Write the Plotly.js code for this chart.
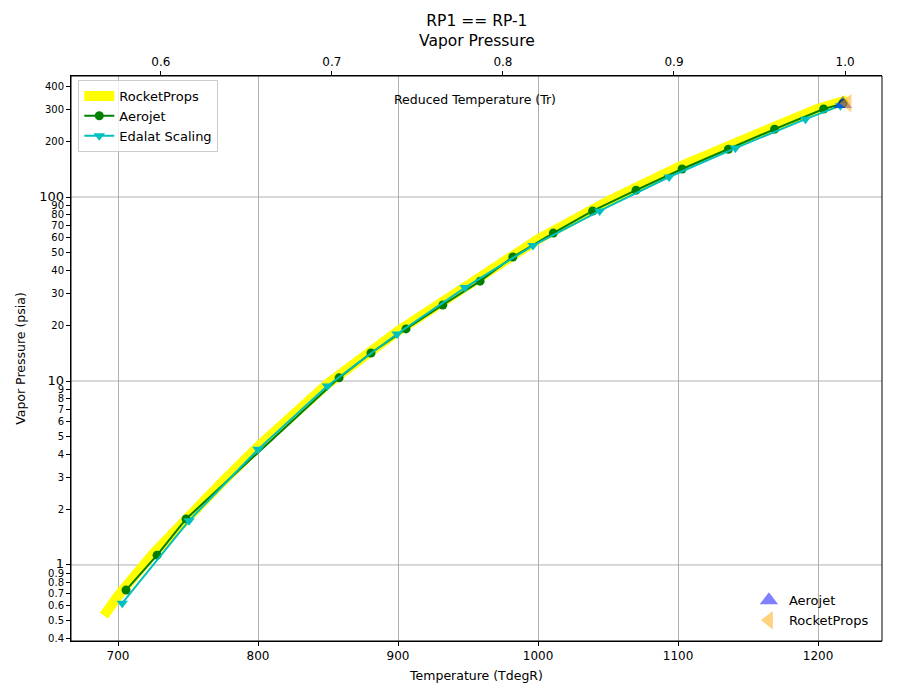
<!DOCTYPE html>
<html>
<head>
<meta charset="utf-8">
<script src="https://cdn.plot.ly/plotly-3.0.1.min.js"></script>
<style>html,body{margin:0;padding:0;background:#fff;}#chart{width:900px;height:700px;}</style>
</head>
<body>
<div id="chart"></div>
<script>
// RocketProps curve (T degR, psia)
const rpT = [690, 700, 725, 750, 775, 800, 850, 900, 950, 1000, 1050, 1100, 1150, 1200, 1221];
const rpP = [0.53, 0.68, 1.15, 1.85, 2.85, 4.4, 9.7, 18.7, 33, 59, 95, 145, 210, 302, 337];
// Aerojet data
const ajT = [705.7, 727.9, 748.6, 857.9, 880.7, 905.7, 932, 958.6, 982, 1010.9, 1039, 1070, 1102.9, 1136, 1169, 1204, 1217.7];
const ajP = [0.73, 1.13, 1.78, 10.4, 14.2, 19.2, 25.9, 34.9, 47.2, 63.7, 84, 109, 142, 182, 234, 301, 322];
// Edalat scaling
const edT = [703, 750.7, 800, 849.5, 899.3, 947.9, 996.4, 1044, 1093.6, 1141, 1191, 1216];
const edP = [0.62, 1.74, 4.25, 9.4, 18.0, 32.2, 54.5, 84, 128.5, 184.6, 265, 314];
// critical points
const critAjT = [1217.7], critAjP = [320];
const critRpT = [1221], critRpP = [324];
// axis ticks
const xTicks = [700, 800, 900, 1000, 1100, 1200];
const trTicks = [0.6, 0.7, 0.8, 0.9, 1.0];
const trLabels = ['0.6', '0.7', '0.8', '0.9', '1.0'];
const yTicks = [0.4,0.5,0.6,0.7,0.8,0.9,1,2,3,4,5,6,7,8,9,10,20,30,40,50,60,70,80,90,100,200,300,400];
const yMajor = [1, 10, 100];

const yText = yTicks.map(v => yMajor.includes(v) ? '<span style="font-size:13px">' + v + '</span>' : String(v));

const traces = [
  {x: rpT, y: rpP, name: 'RocketProps', mode: 'lines', line: {color: '#ffff00', width: 10}, legend: 'legend'},
  {x: ajT, y: ajP, name: 'Aerojet', mode: 'lines+markers', line: {color: '#008000', width: 2},
   marker: {symbol: 'circle', size: 9, color: '#008000'}, legend: 'legend'},
  {x: edT, y: edP, name: 'Edalat Scaling', mode: 'lines+markers', line: {color: '#00bfbf', width: 2},
   marker: {symbol: 'triangle-down', size: 10, color: '#00bfbf'}, legend: 'legend'},
  {x: critAjT, y: critAjP, name: 'Aerojet', mode: 'markers',
   marker: {symbol: 'triangle-up', size: 16, color: 'rgba(0,0,255,0.5)'}, legend: 'legend2'},
  {x: critRpT, y: critRpP, name: 'RocketProps', mode: 'markers',
   marker: {symbol: 'triangle-left', size: 16, color: 'rgba(255,165,0,0.5)'}, legend: 'legend2'},
  // empty trace so the top (reduced temperature) axis is drawn
  {x: [], y: [], xaxis: 'x2', yaxis: 'y', mode: 'markers', showlegend: false, hoverinfo: 'skip'}
];

const gridShapes = yMajor.map(v => ({type: 'line', xref: 'paper', x0: 0, x1: 1, yref: 'y', y0: v, y1: v,
  line: {color: '#b0b0b0', width: 1}, layer: 'below'}));

const layout = {
  width: 900, height: 700,
  font: {family: 'DejaVu Sans', color: '#000', size: 12},
  paper_bgcolor: '#fff', plot_bgcolor: '#fff',
  margin: {l: 71, r: 18, t: 76, b: 59},
  xaxis: {range: [666.4, 1245.7], tickvals: xTicks, ticks: 'outside', ticklen: 4, tickcolor: '#000',
          showline: true, linecolor: '#000', mirror: false, showgrid: true, gridcolor: '#b0b0b0', zeroline: false,
          tickfont: {size: 12}, title: {text: 'Temperature (TdegR)', font: {size: 12.5}, standoff: 8}},
  xaxis2: {overlaying: 'x', side: 'top', anchor: 'y', range: [0.5475, 1.0216], tickvals: trTicks, ticktext: trLabels,
           ticks: 'outside', ticklen: 4, tickcolor: '#000', showline: true, linecolor: '#000', showgrid: false,
           zeroline: false, tickfont: {size: 12}},
  yaxis: {type: 'log', range: [Math.log10(0.386), Math.log10(455)], tickvals: yTicks, ticktext: yText,
          ticks: 'outside', ticklen: 4, tickcolor: '#000', showline: true, linecolor: '#000', showgrid: false,
          zeroline: false, tickfont: {size: 10}, title: {text: 'Vapor Pressure (psia)', font: {size: 12.5}, standoff: 10}},
  shapes: gridShapes.concat([{type: 'rect', xref: 'paper', yref: 'paper', x0: 0, x1: 1, y0: 0, y1: 1,
           line: {color: '#000', width: 1}, layer: 'above'}]),
  annotations: [
    {text: 'RP1 == RP-1<br>Vapor Pressure', xref: 'paper', yref: 'paper', x: 0.5, y: 1.0805,
     showarrow: false, font: {size: 15.5}, xanchor: 'center', yanchor: 'middle'},
    {text: 'Reduced Temperature (Tr)', xref: 'paper', yref: 'paper', x: 0.498, y: 0.958,
     showarrow: false, font: {size: 12.5}, xanchor: 'center', yanchor: 'middle'}],
  legend: {x: 0.009, y: 0.993, xanchor: 'left', yanchor: 'top', bgcolor: 'rgba(255,255,255,0.8)',
           bordercolor: '#cccccc', borderwidth: 1, font: {size: 13}, tracegroupgap: 0},
  legend2: {x: 0.99, y: 0.01, xanchor: 'right', yanchor: 'bottom', bgcolor: 'rgba(255,255,255,0)',
            borderwidth: 0, font: {size: 13}},
  showlegend: true
};

Plotly.newPlot('chart', traces, layout, {displayModeBar: false, responsive: false});
</script>
</body>
</html>
